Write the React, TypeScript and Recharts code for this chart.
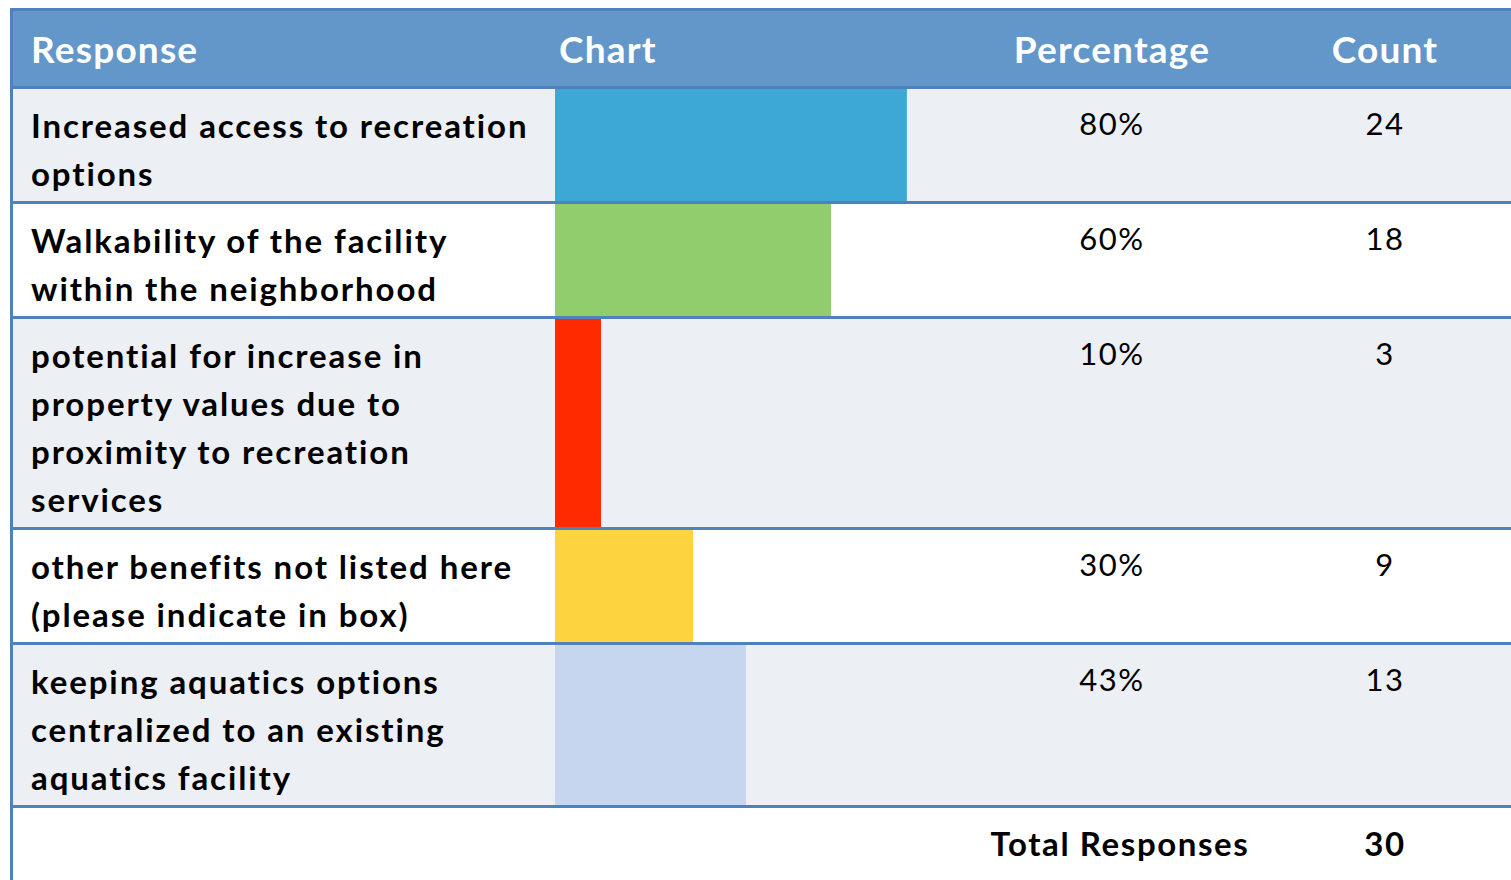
import { Bar, BarChart, XAxis, YAxis } from 'recharts'

// line breaks follow the wrapping in the source table
const responses = [
  'Increased access to recreation\noptions',
  'Walkability of the facility\nwithin the neighborhood',
  'potential for increase in\nproperty values due to\nproximity to recreation\nservices',
  'other benefits not listed here\n(please indicate in box)',
  'keeping aquatics options\ncentralized to an existing\naquatics facility',
]
const percentages = ['80%', '60%', '10%', '30%', '43%']
const counts = [24, 18, 3, 9, 13]
// bar lengths as drawn in the picture (percent of the chart column)
const barLengths = [76.5, 60, 10, 30, 41.5]
const barColors = ['#3DA8D6', '#92CD6D', '#FF2A00', '#FDD33F', '#C5D6EE']
const totalResponses = 30

const LINE = '#4F81BD'
const HEADER_BG = '#6396C9'
const ROW_ALT = '#ECEFF4'
const FONT = 'Lato, "Open Sans", sans-serif'

// y position of each horizontal rule (top edge, 3px thick)
const rules = [8, 86, 201, 316, 527, 642, 805]
const CHART_X = 555
const CHART_W = 460
const PCT_CENTER = 1112
const COUNT_CENTER = 1385

function RowBar({ value, color, height, label }: { value: number; color: string; height: number; label: string }) {
  return (
    <BarChart
      width={CHART_W}
      height={height}
      data={[{ label, value }]}
      layout="vertical"
      margin={{ top: 0, right: 0, bottom: 0, left: 0 }}
      barCategoryGap={0}
    >
      <XAxis type="number" domain={[0, 100]} hide />
      <YAxis type="category" dataKey="label" hide />
      <Bar dataKey="value" fill={color} isAnimationActive={false} />
    </BarChart>
  )
}

function Centered({ x, top, children, bold }: { x: number; top: number; children: React.ReactNode; bold?: boolean }) {
  return (
    <div
      style={{
        position: 'absolute',
        left: x - 200,
        width: 400,
        top,
        textAlign: 'center',
        fontSize: bold ? 33 : 31,
        fontWeight: bold ? 700 : 400,
        letterSpacing: bold ? 1.6 : 1.6,
        lineHeight: '48px',
        color: '#000',
      }}
    >
      {children}
    </div>
  )
}

export default function App() {
  return (
    <div
      style={{
        position: 'absolute',
        left: 0,
        top: 0,
        width: 1511,
        height: 880,
        overflow: 'hidden',
        background: '#fff',
        fontFamily: FONT,
      }}
    >
      {/* header */}
      <div style={{ position: 'absolute', left: 10, top: rules[0], width: 1501, height: rules[1] - rules[0], background: HEADER_BG }} />
      {[
        { text: 'Response', left: 31 },
        { text: 'Chart', left: 559 },
      ].map((h) => (
        <div
          key={h.text}
          style={{ position: 'absolute', left: h.left, top: 11, lineHeight: '75px', fontSize: 37, fontWeight: 700, letterSpacing: 1.2, color: '#fff' }}
        >
          {h.text}
        </div>
      ))}
      {[
        { text: 'Percentage', x: PCT_CENTER },
        { text: 'Count', x: COUNT_CENTER },
      ].map((h) => (
        <div
          key={h.text}
          style={{
            position: 'absolute',
            left: h.x - 200,
            width: 400,
            textAlign: 'center',
            top: 11,
            lineHeight: '75px',
            fontSize: 37,
            fontWeight: 700,
            letterSpacing: 1.2,
            color: '#fff',
          }}
        >
          {h.text}
        </div>
      ))}

      {/* body rows */}
      {responses.map((r, i) => {
        const top = rules[i + 1] + 3
        const height = rules[i + 2] - top
        return (
          <div key={r}>
            <div style={{ position: 'absolute', left: 13, top, width: 1498, height, background: i % 2 === 0 ? ROW_ALT : '#fff' }} />
            <div
              style={{
                position: 'absolute',
                left: 31,
                top: top + 12,
                width: 520,
                fontSize: 33,
                fontWeight: 700,
                letterSpacing: 1.9,
                lineHeight: '48px',
                whiteSpace: 'pre-line',
                color: '#000',
              }}
            >
              {r}
            </div>
            <div style={{ position: 'absolute', left: CHART_X, top }}>
              <RowBar value={barLengths[i]} color={barColors[i]} height={height} label={r} />
            </div>
            <Centered x={PCT_CENTER} top={top + 10}>{percentages[i]}</Centered>
            <Centered x={COUNT_CENTER} top={top + 10}>{counts[i]}</Centered>
          </div>
        )
      })}

      {/* total row */}
      <Centered x={1120} top={rules[6] + 14} bold>Total Responses</Centered>
      <Centered x={COUNT_CENTER} top={rules[6] + 14} bold>{totalResponses}</Centered>

      {/* rules */}
      {rules.map((y) => (
        <div key={y} style={{ position: 'absolute', left: 10, top: y, width: 1501, height: 3, background: LINE }} />
      ))}
      <div style={{ position: 'absolute', left: 10, top: rules[0], width: 3, height: 880, background: LINE }} />
    </div>
  )
}
